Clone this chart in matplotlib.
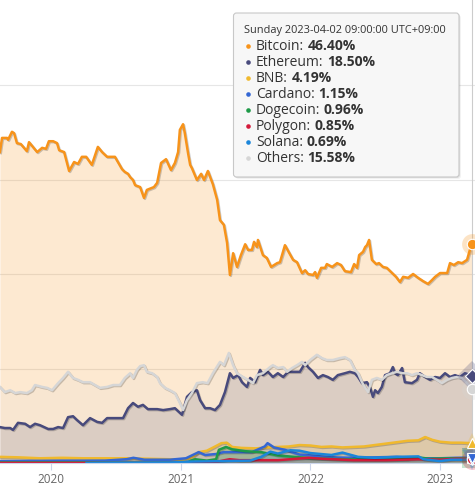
import matplotlib
matplotlib.use("Agg")
import matplotlib.pyplot as plt
import matplotlib.dates as mdates
import matplotlib.patheffects as pe
from matplotlib.patches import FancyBboxPatch
import pandas as pd

plt.rcParams["font.family"] = ["Open Sans", "DejaVu Sans"]

# ---- data (market dominance, %) ----
btc_dates = ["2019-08-10", "2019-08-16", "2019-08-30", "2019-09-02", "2019-09-13", "2019-09-19",
             "2019-09-27", "2019-10-08", "2019-10-25", "2019-10-31", "2019-11-11", "2019-11-23",
             "2019-12-07", "2019-12-18", "2019-12-26", "2020-01-07", "2020-01-18", "2020-01-24",
             "2020-02-07", "2020-02-21", "2020-03-06", "2020-03-17", "2020-03-28", "2020-04-09",
             "2020-04-25", "2020-05-12", "2020-05-24", "2020-06-07", "2020-06-29", "2020-07-19",
             "2020-07-27", "2020-08-05", "2020-08-11", "2020-08-19", "2020-08-25", "2020-09-08",
             "2020-09-19", "2020-09-27", "2020-10-17", "2020-10-26", "2020-11-06", "2020-11-20",
             "2020-12-04", "2020-12-15", "2020-12-24", "2020-12-29", "2021-01-07", "2021-01-12",
             "2021-01-21", "2021-01-27", "2021-02-01", "2021-02-15", "2021-02-27", "2021-03-07",
             "2021-03-18", "2021-04-01", "2021-04-13", "2021-04-21", "2021-05-02", "2021-05-11",
             "2021-05-19", "2021-05-28", "2021-06-08", "2021-06-19", "2021-07-01", "2021-07-09",
             "2021-07-20", "2021-07-26", "2021-08-03", "2021-08-06", "2021-08-20", "2021-08-31",
             "2021-09-12", "2021-09-29", "2021-10-07", "2021-10-21", "2021-11-04", "2021-11-13",
             "2021-11-24", "2021-12-08", "2021-12-17", "2021-12-25", "2022-01-08", "2022-01-14",
             "2022-01-19", "2022-01-31", "2022-02-11", "2022-02-16", "2022-03-03", "2022-03-17",
             "2022-03-28", "2022-04-08", "2022-04-25", "2022-05-04", "2022-05-12", "2022-05-18",
             "2022-05-29", "2022-06-04", "2022-06-09", "2022-06-15", "2022-06-23", "2022-07-05",
             "2022-07-13", "2022-07-24", "2022-08-04", "2022-08-19", "2022-08-30", "2022-09-10",
             "2022-09-19", "2022-10-03", "2022-10-17", "2022-10-31", "2022-11-14", "2022-11-28",
             "2022-12-09", "2022-12-18", "2023-01-01", "2023-01-21", "2023-01-29", "2023-02-09",
             "2023-02-21", "2023-03-04", "2023-03-18", "2023-03-26", "2023-04-02"]
btc_vals = [65.8, 68.8, 68.8, 68.4, 70.1, 69.8, 67.7, 67.5, 66.0, 67.9, 66.9, 65.8,
            66.7, 66.5, 68.1, 68.1, 67.7, 66.2, 65.8, 61.8, 63.7, 63.3, 64.8, 64.8,
            63.1, 66.9, 65.8, 64.8, 64.8, 62.2, 61.6, 61.2, 60.5, 59.9, 58.8, 58.4,
            56.1, 57.8, 58.4, 59.3, 63.5, 64.3, 62.0, 63.5, 65.8, 70.5, 71.7, 69.8,
            65.6, 63.1, 62.4, 59.9, 61.2, 59.9, 61.8, 59.0, 55.7, 51.4, 50.4, 46.6,
            39.8, 44.4, 41.5, 44.0, 46.3, 45.1, 45.1, 46.8, 45.7, 47.2, 44.0, 43.4,
            41.5, 42.3, 42.5, 46.1, 44.2, 43.0, 42.5, 40.2, 40.8, 40.0, 39.8, 40.4,
            39.2, 41.3, 41.3, 42.1, 41.5, 42.3, 41.9, 40.6, 40.4, 42.1, 41.3, 44.0,
            44.7, 45.7, 46.1, 47.2, 43.0, 42.1, 42.3, 41.5, 41.3, 40.2, 39.4, 38.3,
            39.4, 39.2, 40.0, 39.2, 38.5, 37.9, 38.7, 39.4, 40.2, 40.2, 42.3, 41.9,
            42.5, 42.3, 43.0, 45.1, 46.40]

eth_dates = ["2019-08-10", "2019-08-24", "2019-09-08", "2019-09-16", "2019-09-30", "2019-10-20",
             "2019-11-03", "2019-11-17", "2019-12-01", "2019-12-24", "2020-01-07", "2020-01-21",
             "2020-02-04", "2020-02-18", "2020-03-03", "2020-03-14", "2020-03-31", "2020-04-20",
             "2020-05-10", "2020-05-24", "2020-06-07", "2020-06-29", "2020-07-22", "2020-08-05",
             "2020-08-19", "2020-09-02", "2020-09-16", "2020-09-30", "2020-10-26", "2020-11-12",
             "2020-12-01", "2020-12-15", "2021-01-04", "2021-01-18", "2021-02-01", "2021-02-15",
             "2021-02-24", "2021-03-10", "2021-03-24", "2021-04-07", "2021-04-21", "2021-05-05",
             "2021-05-19", "2021-05-28", "2021-06-11", "2021-06-22", "2021-07-06", "2021-07-15",
             "2021-07-29", "2021-08-12", "2021-08-20", "2021-09-03", "2021-09-17", "2021-10-01",
             "2021-10-16", "2021-10-30", "2021-11-18", "2021-12-02", "2021-12-17", "2021-12-25",
             "2022-01-08", "2022-01-22", "2022-02-05", "2022-02-19", "2022-03-05", "2022-03-19",
             "2022-04-08", "2022-04-22", "2022-05-06", "2022-05-15", "2022-05-26", "2022-06-09",
             "2022-06-18", "2022-06-26", "2022-07-02", "2022-07-10", "2022-07-21", "2022-07-30",
             "2022-08-13", "2022-08-21", "2022-08-27", "2022-09-04", "2022-09-16", "2022-09-24",
             "2022-10-14", "2022-10-28", "2022-11-05", "2022-11-20", "2022-12-04", "2022-12-18",
             "2023-01-01", "2023-01-15", "2023-01-29", "2023-02-12", "2023-02-26", "2023-03-12",
             "2023-04-02"]
eth_vals = [7.6, 7.4, 7.4, 7.0, 8.5, 8.3, 7.6, 8.3, 8.0, 7.2, 7.2, 7.6,
            7.4, 9.7, 9.9, 9.1, 8.0, 9.5, 8.7, 8.5, 9.5, 9.5, 9.5, 11.6,
            12.7, 11.9, 12.3, 11.4, 11.4, 11.2, 11.4, 11.6, 10.2, 14.0, 15.0, 15.4,
            13.3, 11.6, 11.6, 11.2, 12.3, 15.0, 19.0, 18.0, 18.6, 17.1, 16.1, 18.0,
            17.1, 19.7, 18.6, 19.3, 18.2, 19.0, 18.2, 19.3, 19.3, 19.3, 21.2, 20.3,
            19.3, 18.0, 18.6, 18.2, 17.6, 18.6, 19.0, 19.3, 19.0, 18.2, 16.9, 17.1,
            15.9, 14.0, 15.4, 14.8, 16.1, 18.6, 19.0, 20.3, 19.0, 18.6, 20.1, 17.1,
            16.9, 17.6, 19.0, 18.2, 17.6, 18.2, 18.0, 19.0, 18.2, 18.6, 18.2, 19.0,
            18.50]

oth_dates = ["2019-08-10", "2019-08-24", "2019-09-08", "2019-09-22", "2019-10-06", "2019-10-25",
             "2019-11-08", "2019-11-17", "2019-12-07", "2019-12-21", "2020-01-04", "2020-01-21",
             "2020-02-04", "2020-02-18", "2020-03-03", "2020-03-17", "2020-03-31", "2020-04-20",
             "2020-05-04", "2020-05-18", "2020-06-07", "2020-06-24", "2020-07-13", "2020-07-27",
             "2020-08-11", "2020-08-19", "2020-08-30", "2020-09-08", "2020-09-19", "2020-09-27",
             "2020-10-12", "2020-10-26", "2020-11-03", "2020-11-17", "2020-12-01", "2020-12-15",
             "2020-12-29", "2021-01-07", "2021-01-18", "2021-02-01", "2021-02-15", "2021-03-03",
             "2021-03-17", "2021-04-01", "2021-04-21", "2021-05-02", "2021-05-16", "2021-05-28",
             "2021-06-08", "2021-06-25", "2021-07-09", "2021-07-23", "2021-08-03", "2021-08-20",
             "2021-09-09", "2021-09-17", "2021-10-01", "2021-10-16", "2021-10-27", "2021-11-10",
             "2021-11-24", "2021-12-08", "2021-12-17", "2021-12-31", "2022-01-19", "2022-02-02",
             "2022-02-16", "2022-03-05", "2022-03-25", "2022-04-08", "2022-04-22", "2022-05-06",
             "2022-05-15", "2022-05-26", "2022-06-04", "2022-06-12", "2022-06-23", "2022-07-07",
             "2022-07-21", "2022-08-04", "2022-08-19", "2022-09-02", "2022-09-16", "2022-09-30",
             "2022-10-14", "2022-10-28", "2022-11-11", "2022-11-25", "2022-12-09", "2022-12-23",
             "2023-01-06", "2023-01-21", "2023-02-04", "2023-02-18", "2023-03-04", "2023-03-18",
             "2023-04-02"]
oth_vals = [16.1, 15.0, 15.4, 14.8, 15.0, 14.8, 15.4, 16.5, 16.1, 15.9, 15.4, 16.9,
            18.0, 19.3, 18.0, 17.6, 17.1, 17.1, 16.5, 15.9, 16.1, 16.5, 16.5, 18.0,
            19.0, 18.0, 19.7, 20.5, 20.7, 19.3, 19.0, 18.2, 16.9, 15.9, 15.4, 14.8,
            12.7, 11.2, 13.3, 14.8, 16.9, 17.1, 16.9, 19.0, 21.4, 20.7, 23.3, 20.7,
            19.0, 18.2, 17.6, 16.9, 18.6, 19.0, 20.3, 20.7, 20.1, 20.3, 19.3, 20.1,
            20.7, 21.4, 20.7, 21.8, 22.9, 22.2, 21.8, 21.8, 22.2, 22.4, 21.8, 19.7,
            19.0, 17.1, 15.9, 15.0, 17.6, 18.0, 17.6, 18.6, 19.0, 19.3, 19.0, 19.0,
            18.6, 19.0, 18.6, 18.2, 18.2, 17.6, 16.9, 17.6, 18.0, 18.2, 18.0, 16.9,
            15.58]

bnb_dates = ["2019-08-10", "2019-10-01", "2019-12-01", "2020-02-01", "2020-04-01", "2020-06-01",
             "2020-08-01", "2020-10-01", "2020-12-01", "2021-01-10", "2021-02-01", "2021-02-20",
             "2021-03-15", "2021-04-10", "2021-04-25", "2021-05-10", "2021-05-25", "2021-06-20",
             "2021-08-01", "2021-09-01", "2021-10-01", "2021-11-01", "2021-12-01", "2022-01-01",
             "2022-02-01", "2022-03-01", "2022-04-01", "2022-05-01", "2022-06-01", "2022-07-01",
             "2022-08-01", "2022-09-01", "2022-10-01", "2022-11-01", "2022-11-20", "2022-12-10",
             "2023-01-01", "2023-02-01", "2023-03-01", "2023-04-02"]
bnb_vals = [1.3, 1.2, 1.0, 1.1, 1.0, 1.0, 1.0, 0.9, 0.8, 0.7, 1.2, 2.3,
            2.6, 3.6, 4.2, 4.3, 3.4, 3.2, 3.1, 3.3, 3.4, 3.5, 3.8, 3.7,
            3.4, 3.5, 3.3, 3.4, 3.5, 3.8, 4.1, 4.4, 4.7, 4.8, 5.5, 4.9,
            4.5, 4.3, 4.3, 4.19]

ada_dates = ["2019-08-10", "2020-06-01", "2020-08-01", "2020-08-20", "2020-09-20", "2020-12-01",
             "2021-01-15", "2021-02-20", "2021-03-10", "2021-04-10", "2021-05-01", "2021-06-01",
             "2021-07-20", "2021-08-25", "2021-09-02", "2021-09-20", "2021-10-20", "2021-12-01",
             "2022-01-01", "2022-03-01", "2022-05-01", "2022-07-01", "2022-09-01", "2022-11-01",
             "2023-01-01", "2023-02-15", "2023-04-02"]
ada_vals = [0.4, 0.5, 0.8, 1.1, 0.7, 0.7, 1.0, 2.3, 1.7, 1.9, 2.3, 2.3,
            2.3, 3.5, 4.2, 3.3, 2.8, 1.8, 1.6, 1.2, 1.1, 1.2, 1.3, 1.0,
            1.0, 1.1, 1.15]

doge_dates = ["2019-08-10", "2021-01-20", "2021-01-29", "2021-02-10", "2021-03-15", "2021-04-10",
              "2021-04-18", "2021-05-08", "2021-05-25", "2021-07-01", "2021-08-15", "2021-10-01",
              "2021-11-01", "2022-01-01", "2022-04-01", "2022-07-01", "2022-10-01", "2022-11-01",
              "2022-12-01", "2023-02-01", "2023-04-02"]
doge_vals = [0.12, 0.12, 0.5, 0.8, 0.5, 0.8, 2.8, 3.4, 2.9, 2.5, 2.3, 1.6,
             1.4, 1.0, 0.8, 0.7, 0.8, 1.2, 0.9, 1.0, 0.96]

matic_dates = ["2019-08-10", "2021-02-01", "2021-03-01", "2021-04-15", "2021-05-18", "2021-06-15",
               "2021-08-15", "2021-10-01", "2021-12-27", "2022-02-01", "2022-05-01", "2022-08-01",
               "2022-11-01", "2023-01-01", "2023-02-15", "2023-04-02"]
matic_vals = [0.02, 0.02, 0.1, 0.3, 0.8, 0.6, 0.6, 0.6, 1.1, 0.9, 0.6, 0.6,
              0.8, 0.7, 0.9, 0.85]

sol_dates = ["2020-04-10", "2020-06-01", "2020-12-01", "2021-02-01", "2021-05-01", "2021-07-15",
             "2021-08-15", "2021-09-10", "2021-10-01", "2021-11-05", "2021-12-01", "2022-01-01",
             "2022-03-01", "2022-04-01", "2022-05-15", "2022-07-01", "2022-09-01", "2022-11-01",
             "2022-11-15", "2022-12-31", "2023-02-01", "2023-04-02"]
sol_vals = [0.0, 0.05, 0.1, 0.3, 0.4, 0.5, 1.3, 2.4, 2.0, 2.7, 2.6, 2.1,
            1.7, 2.2, 1.3, 1.1, 1.3, 1.4, 0.8, 0.4, 0.7, 0.69]

names = ["Bitcoin", "Ethereum", "BNB", "Cardano", "Dogecoin", "Polygon", "Solana", "Others"]
colors = ["#f7931a", "#484a7c", "#f0b92e", "#3467d4", "#1e9a48", "#d41a3a", "#1b86da", "#d6d6d6"]
markers = ["o", "D", "^", "v", "s", "o", "v", "o"]
series = [(btc_dates, btc_vals), (eth_dates, eth_vals), (bnb_dates, bnb_vals),
          (ada_dates, ada_vals), (doge_dates, doge_vals), (matic_dates, matic_vals),
          (sol_dates, sol_vals), (oth_dates, oth_vals)]
fill_alpha = [0.2, 0.18, 0.2, 0.15, 0.25, 0.15, 0.15, 0.12]

tip_header = "Sunday 2023-04-02 09:00:00 UTC+09:00"
tip_date = pd.Timestamp("2023-04-02")

# ---- figure ----
W, H = 475, 493
fig = plt.figure(figsize=(W / 100, H / 100), dpi=100)
base_px = 463
px_per_pct = 4.725
ax = fig.add_axes([0, (H - base_px) / H, 1, base_px / H])
ax.set_ylim(0, base_px / px_per_pct)
ax.set_xlim(pd.Timestamp("2019-08-10 07:00"), pd.Timestamp("2023-04-09 10:00"))

for s in ["left", "right", "top"]:
    ax.spines[s].set_visible(False)
ax.spines["bottom"].set_color("#ccd6eb")
ax.spines["bottom"].set_linewidth(0.8)

ax.set_yticks([20, 40, 60, 80])
ax.yaxis.grid(True, color="#e6e6e6", lw=0.8)
ax.set_axisbelow(True)
ax.tick_params(axis="y", length=0, labelleft=False)

ax.xaxis.set_major_locator(mdates.YearLocator())
ax.xaxis.set_major_formatter(mdates.DateFormatter("%Y"))
ax.tick_params(axis="x", length=5, width=0.8, color="#ccd6eb", labelcolor="#666666",
               labelsize=8.5, pad=2.5)

shadow = [pe.SimpleLineShadow(offset=(0.7, -0.7), shadow_color="black", alpha=0.2), pe.Normal()]

for (d, v), col, fa in zip(series, colors, fill_alpha):
    dt = pd.to_datetime(d)
    ax.fill_between(dt, 0, v, color=col, alpha=fa, lw=0)
    ax.plot(dt, v, color=col, lw=1.8, solid_joinstyle="round", path_effects=shadow)

# crosshair
ax.axvline(tip_date, color="#cccccc", lw=0.8, zorder=1)

# end-point markers (hover state); Cardano drawn last of the small ones so it sits on top
order = [0, 1, 2, 4, 5, 6, 3, 7]
for i in order:
    val = series[i][1][-1]
    col, mk = colors[i], markers[i]
    ax.plot(tip_date, val, mk, ms=15, color=col, alpha=0.25, mew=0, clip_on=False, zorder=5)
    ax.plot(tip_date, val, mk, ms=7.5, mfc=col, mec="white", mew=0.8, clip_on=False, zorder=6)

# ---- tooltip drawn in pixel coordinates ----
ov = fig.add_axes([0, 0, 1, 1], zorder=10)
ov.set_xlim(0, W)
ov.set_ylim(H, 0)
ov.axis("off")

for off, a in [(2, 0.05), (1, 0.08)]:
    ov.add_patch(FancyBboxPatch((233.5 + off, 13 + off), 225.5, 164,
                                boxstyle="round,pad=0,rounding_size=3",
                                fc="black", ec="none", alpha=a))
ov.add_patch(FancyBboxPatch((233.5, 13), 225.5, 164, boxstyle="round,pad=0,rounding_size=3",
                            fc="#f7f7f7", ec="#c8c8c8", lw=0.8))

ov.text(244, 31, tip_header, fontsize=7.9, color="#333333", va="center", ha="left")

fig.canvas.draw()
renderer = fig.canvas.get_renderer()
for i, ((d, v), col, name) in enumerate(zip(series, colors, names)):
    yc = 46 + 16 * i
    ov.plot(247.5, yc, "o", ms=3.3, color=col, mew=0)
    t = ov.text(256, yc, name + ":", fontsize=10, color="#333333", va="center", ha="left")
    bb = t.get_window_extent(renderer)
    ov.text(bb.x1 + 3.5, yc, "%.2f%%" % v[-1], fontsize=10, color="#333333",
            fontweight="bold", va="center", ha="left")

fig.savefig("out.png", dpi=100)
